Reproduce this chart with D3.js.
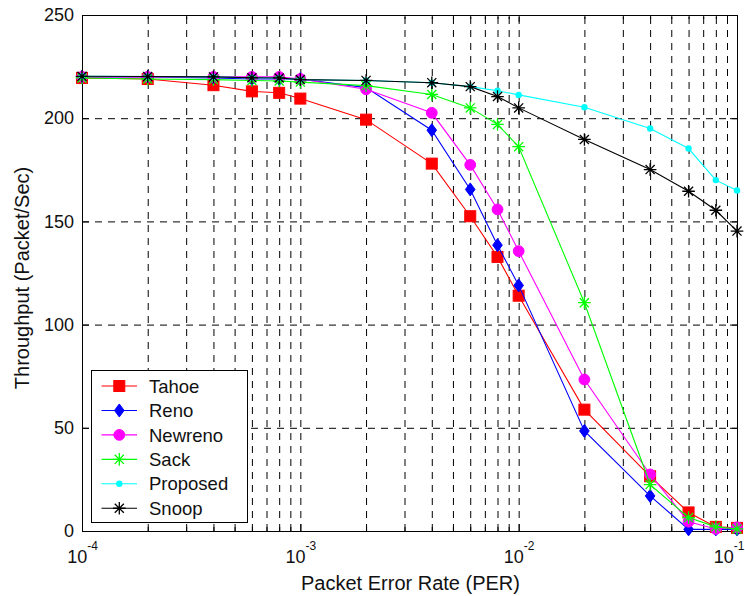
<!DOCTYPE html>
<html><head><meta charset="utf-8">
<script src="https://cdn.jsdelivr.net/npm/d3@7"></script>
<style>body{margin:0;background:#fff}</style>
</head><body><svg id="c" width="745" height="596"></svg>
<script>
const per = [1e-4, 2e-4, 4e-4, 6e-4, 8e-4, 1e-3, 2e-3, 4e-3, 6e-3, 8e-3, 1e-2, 2e-2, 4e-2, 6e-2, 8e-2, 1e-1];
const tahoe    = [219.5, 219, 216, 213, 212.3, 209.5, 199.3, 178, 152.5, 132.8, 114, 58.8, 26.5, 9, 2, 1.5];
const reno     = [220, 220, 219.5, 219, 219, 219, 214.8, 194.2, 165.5, 138.5, 119, 48.5, 17, 0.8, 0.8, 0.8];
const newreno  = [220, 220, 220, 220, 220, 219, 214, 202.6, 177.4, 155.8, 135.6, 73.4, 27.4, 4.5, 1, 1.8];
const sack     = [219.5, 219, 218.7, 218.3, 218, 217.5, 215.8, 211.5, 205, 197, 186.2, 110.6, 22.5, 6.5, 2, 1];
const proposed = [220.3, 220.2, 220, 219.6, 219.5, 218.7, 218.3, 217.2, 215.3, 213.3, 211.3, 205.3, 195, 185.3, 170, 165];
const snoop    = [220.3, 220.2, 220, 219.6, 219.5, 218.7, 218.3, 217.2, 215.3, 210.5, 205, 189.7, 175.1, 164.6, 155.4, 145.3];

const seriesNames   = ["Tahoe", "Reno", "Newreno", "Sack", "Proposed", "Snoop"];
const seriesValues  = [tahoe, reno, newreno, sack, proposed, snoop];
const seriesColors  = ["#ff0000", "#0000ff", "#ff00ff", "#00ff00", "#00ffff", "#000000"];
const seriesMarkers = ["square", "diamond", "circle", "star", "dot", "star"];

const xMajorTicks = [1e-4, 1e-3, 1e-2, 1e-1];
const yTicks = [0, 50, 100, 150, 200, 250];
const yGrid = [50, 100, 150, 200];
const xLabel = "Packet Error Rate (PER)";
const yLabel = "Throughput (Packet/Sec)";

const FONT = "'Liberation Sans', Arial, Helvetica, sans-serif";
const svg = d3.select("#c");
const L = 82, R = 737, T = 15, B = 531;

const x = d3.scaleLog().domain([1e-4, 1e-1]).range([L, R]);
const y = d3.scaleLinear().domain([0, 250]).range([B, T]);

const allX = x.ticks();
const isMajor = v => xMajorTicks.some(m => Math.abs(m - v) / m < 1e-9);
const minorX = allX.filter(v => !isMajor(v));
const innerX = allX.filter(v => v > 1e-4 * 1.0001 && v < 0.1 * 0.9999);

// grid
const gv = svg.append("g").attr("transform", `translate(0,${B})`)
  .call(d3.axisBottom(x).tickValues(innerX).tickSize(-(B - T)).tickFormat(""));
gv.select(".domain").remove();
gv.selectAll("line").attr("stroke", "#000").attr("stroke-dasharray", "7,6");

const gh = svg.append("g").attr("transform", `translate(${L},0)`)
  .call(d3.axisLeft(y).tickValues(yGrid).tickSize(-(R - L)).tickFormat(""));
gh.select(".domain").remove();
gh.selectAll("line").attr("stroke", "#000").attr("stroke-dasharray", "7,6");

// ticks
function styleAxis(g) {
  g.select(".domain").remove();
  g.attr("font-family", FONT).attr("font-size", 18).style("color", "#111");
  g.selectAll("line").attr("stroke", "#000");
}
const xb = svg.append("g").attr("transform", `translate(0,${B})`)
  .call(d3.axisBottom(x).tickValues(xMajorTicks).tickSize(-7).tickPadding(19).tickFormat(() => "10"));
styleAxis(xb);
xb.selectAll(".tick text").each(function(d) {
  const t = d3.select(this);
  t.append("tspan").attr("dy", -13).attr("font-size", 12)
    .text(String(Math.round(Math.log10(d))));
  if (d >= 0.1 * 0.9999) t.attr("text-anchor", "end").attr("x", 7);
});
const xbm = svg.append("g").attr("transform", `translate(0,${B})`)
  .call(d3.axisBottom(x).tickValues(minorX).tickSize(-4).tickFormat(""));
styleAxis(xbm);
const xt = svg.append("g").attr("transform", `translate(0,${T})`)
  .call(d3.axisTop(x).tickValues(xMajorTicks).tickSize(-7).tickFormat(""));
styleAxis(xt);
const xtm = svg.append("g").attr("transform", `translate(0,${T})`)
  .call(d3.axisTop(x).tickValues(minorX).tickSize(-4).tickFormat(""));
styleAxis(xtm);
const yl = svg.append("g").attr("transform", `translate(${L},0)`)
  .call(d3.axisLeft(y).tickValues(yTicks).tickSize(-7).tickPadding(8));
styleAxis(yl);
const yr = svg.append("g").attr("transform", `translate(${R},0)`)
  .call(d3.axisRight(y).tickValues(yTicks).tickSize(-7).tickFormat(""));
styleAxis(yr);

// box
svg.append("rect").attr("x", L + 0.5).attr("y", T + 0.5).attr("width", R - L).attr("height", B - T)
  .attr("fill", "none").attr("stroke", "#000").attr("stroke-width", 1);

// markers
function drawMarker(g, type, color, cx, cy) {
  if (type === "square") {
    g.append("rect").attr("x", cx - 5.5).attr("y", cy - 5.5).attr("width", 11).attr("height", 11)
      .attr("fill", color).attr("stroke", color).attr("stroke-width", 1);
  } else if (type === "diamond") {
    g.append("path").attr("d", `M${cx},${cy - 6.5}L${cx + 4.8},${cy}L${cx},${cy + 6.5}L${cx - 4.8},${cy}Z`)
      .attr("fill", color).attr("stroke", color).attr("stroke-width", 1);
  } else if (type === "circle") {
    g.append("circle").attr("cx", cx).attr("cy", cy).attr("r", 5.4)
      .attr("fill", color).attr("stroke", color).attr("stroke-width", 1);
  } else if (type === "dot") {
    g.append("circle").attr("cx", cx).attr("cy", cy).attr("r", 3.2).attr("fill", color);
  } else if (type === "star") {
    const r = 6.3, d = r * 0.72;
    g.append("path").attr("d",
      `M${cx - r},${cy}H${cx + r}M${cx},${cy - r}V${cy + r}M${cx - d},${cy - d}L${cx + d},${cy + d}M${cx - d},${cy + d}L${cx + d},${cy - d}`)
      .attr("stroke", color).attr("stroke-width", 1.3).attr("fill", "none");
  }
}

const line = d3.line().x(d => x(d[0])).y(d => y(d[1]));
const plot = svg.append("g");
seriesValues.forEach((vals, i) => {
  const pts = per.map((p, j) => [p, vals[j]]);
  const g = plot.append("g");
  g.append("path").datum(pts).attr("d", line).attr("fill", "none")
    .attr("stroke", seriesColors[i]).attr("stroke-width", 1.1);
  pts.forEach(p => drawMarker(g, seriesMarkers[i], seriesColors[i], x(p[0]), y(p[1])));
});

// legend
const lg = svg.append("g");
lg.append("rect").attr("x", 91.5).attr("y", 370.5).attr("width", 156).attr("height", 152)
  .attr("fill", "#fff").attr("stroke", "#000").attr("stroke-width", 1);
seriesNames.forEach((name, i) => {
  const ly = 386 + i * 24.45;
  lg.append("line").attr("x1", 101.5).attr("x2", 137).attr("y1", ly).attr("y2", ly)
    .attr("stroke", seriesColors[i]).attr("stroke-width", 1.1);
  drawMarker(lg, seriesMarkers[i], seriesColors[i], 119.3, ly);
  lg.append("text").attr("x", 149).attr("y", ly).attr("dy", "0.36em")
    .attr("font-family", FONT).attr("font-size", 18.5).attr("fill", "#111").text(name);
});

// axis labels
svg.append("text").attr("x", 410.5).attr("y", 590).attr("text-anchor", "middle")
  .attr("font-family", FONT).attr("font-size", 20).attr("fill", "#111").text(xLabel);
svg.append("text").attr("transform", "translate(28.5,278) rotate(-90)").attr("text-anchor", "middle")
  .attr("font-family", FONT).attr("font-size", 20).attr("fill", "#111").text(yLabel);
</script>
</body></html>
